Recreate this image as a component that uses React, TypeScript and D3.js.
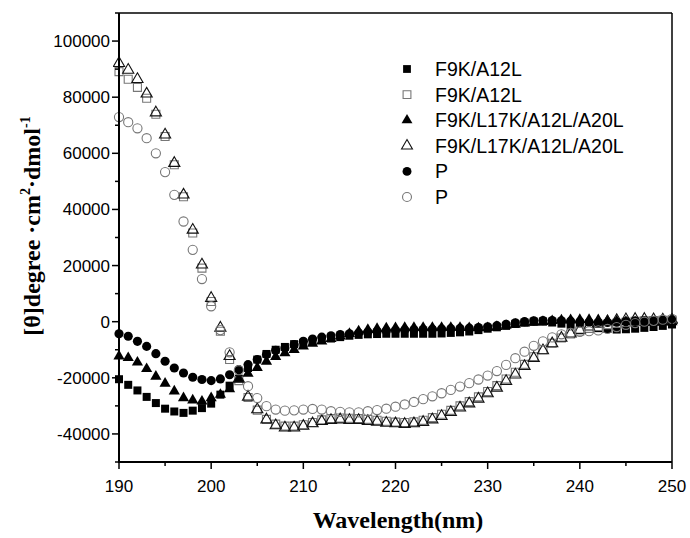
import React from "react";
import * as d3 from "d3";

// wavelength grid (nm), one reading per nm
const wavelengths = [
  190, 191, 192, 193, 194, 195, 196, 197, 198, 199, 200, 201, 202, 203, 204, 205, 206, 207, 208, 209,
  210, 211, 212, 213, 214, 215, 216, 217, 218, 219, 220, 221, 222, 223, 224, 225, 226, 227, 228, 229,
  230, 231, 232, 233, 234, 235, 236, 237, 238, 239, 240, 241, 242, 243, 244, 245, 246, 247, 248, 249, 250,
];

// F9K/A12L, filled squares
const f9kFilled = [
  -20500, -22500, -24500, -26800, -29000, -31000, -32000, -32500, -31700, -30800,
  -29200, -26000, -22800, -20300, -16500, -13500, -11500, -10000, -9000, -8000,
  -7500, -7000, -6500, -6000, -5500, -5000, -4700, -4500, -4400, -4300,
  -4300, -4300, -4300, -4300, -4300, -4200, -4000, -3800, -3500, -3000,
  -2500, -2000, -1500, -800, -300, 0, 0, -300, -700, -1100,
  -1500, -1900, -2300, -2600, -2800, -2700, -2500, -2200, -1900, -1500, -1000,
];

// F9K/A12L, open squares
const f9kOpen = [
  89100, 86400, 83500, 79600, 73900, 66000, 55900, 44500, 31600, 19100,
  7200, -3400, -13500, -21000, -27000, -31500, -34800, -36500, -37200, -37200,
  -36700, -35900, -35000, -34500, -34300, -34400, -34500, -34800, -35100, -35500,
  -35800, -35900, -35700, -35100, -34200, -33000, -31600, -30000, -28500, -26800,
  -24900, -22800, -20400, -18000, -15200, -12500, -10000, -7700, -5800, -4400,
  -3300, -2400, -1700, -1100, -600, -200, 100, 300, 400, 500, 600,
];

// F9K/L17K/A12L/A20L, filled triangles
const f9l17Filled = [
  -12300, -12900, -14500, -16800, -19500, -22000, -24800, -27200, -28000, -28400,
  -27200, -26000, -24000, -20400, -18500, -16400, -14200, -12500, -11200, -10000,
  -8800, -7800, -7000, -6100, -5200, -4300, -3400, -2850, -2500, -2300,
  -2200, -2100, -2100, -2100, -2100, -2100, -2100, -2100, -2200, -2300,
  -2200, -1800, -1400, -1000, -600, -300, 0, 300, 500, 600,
  700, 700, 600, 400, 200, 0, -200, -300, -300, -200, -100,
];

// F9K/L17K/A12L/A20L, open triangles
const f9l17Open = [
  92100, 89700, 86400, 81200, 74500, 66600, 56500, 45200, 32700, 20300,
  8400, -2200, -12300, -20400, -26800, -31300, -34900, -37000, -37800, -37800,
  -37200, -36300, -35500, -35100, -34900, -35100, -35100, -35500, -35700, -36100,
  -36300, -36500, -36300, -35800, -34900, -33700, -32300, -30700, -29200, -27500,
  -25600, -23600, -21200, -18900, -15900, -13000, -10300, -7800, -5800, -4300,
  -3000, -1800, -800, 0, 500, 800, 900, 900, 800, 700, 600,
];

// P, filled circles
const pFilled = [
  -4300, -5200, -7000, -8800, -11400, -14100, -16500, -18300, -19800, -20600,
  -21000, -20400, -18900, -17100, -15300, -13500, -11700, -10200, -9400, -8200,
  -7000, -6200, -5500, -5000, -4600, -4300, -4000, -3700, -3500, -3300,
  -3100, -3000, -2900, -2800, -2700, -2600, -2500, -2400, -2300, -2100,
  -1800, -1400, -900, -400, 0, 300, 400, 400, 300, 200,
  0, -200, -300, -300, -200, 0, 200, 300, 400, 500, 600,
];

// P, open circles
const pOpen = [
  72900, 71100, 68900, 65400, 60000, 53300, 45200, 35700, 25600, 15200,
  5500, -3000, -10900, -17300, -23000, -27200, -30100, -31300, -31700, -31600,
  -31300, -31100, -31300, -31900, -32100, -32300, -32300, -31900, -31500, -31000,
  -30300, -29500, -28600, -27600, -26600, -25500, -24300, -23100, -21900, -20600,
  -19200, -17600, -15400, -13000, -10700, -8600, -7000, -5600, -4500, -4000,
  -3600, -3400, -3100, -2600, -1900, -1100, -500, 0, 300, 700, 1000,
];

const xTicks = [190, 200, 210, 220, 230, 240, 250];
const yTicks = [-40000, -20000, 0, 20000, 40000, 60000, 80000, 100000];

const series = [
  { name: "F9K/A12L", values: f9kFilled, shape: d3.symbolSquare, size: 64, fill: "#000", stroke: "none" },
  { name: "F9K/A12L", values: f9kOpen, shape: d3.symbolSquare, size: 64, fill: "#fff", stroke: "#777" },
  { name: "F9K/L17K/A12L/A20L", values: f9l17Filled, shape: d3.symbolTriangle, size: 54, fill: "#000", stroke: "none" },
  { name: "F9K/L17K/A12L/A20L", values: f9l17Open, shape: d3.symbolTriangle, size: 54, fill: "none", stroke: "#111" },
  { name: "P", values: pFilled, shape: d3.symbolCircle, size: 66, fill: "#000", stroke: "none" },
  { name: "P", values: pOpen, shape: d3.symbolCircle, size: 66, fill: "none", stroke: "#777" },
];

const W = 690;
const H = 538;
const left = 119;
const right = 672;
const top = 13;
const bottom = 462;

export default function App() {
  const x = d3.scaleLinear().domain([190, 250]).range([left, right]);
  const y = d3.scaleLinear().domain([-50000, 110000]).range([bottom, top]);
  const minorX = d3.range(195, 250, 10);
  const minorY = d3.range(-50000, 110001, 10000).filter((v) => !yTicks.includes(v));

  return (
    <svg width={W} height={H} style={{ position: "absolute", left: 0, top: 0, background: "#fff" }}>
      <defs>
        <clipPath id="plot">
          <rect x={left - 6} y={top} width={right - left + 12} height={bottom - top} />
        </clipPath>
      </defs>

      {/* markers */}
      <g clipPath="url(#plot)">
        {series.map((s, si) => {
          const path = d3.symbol().type(s.shape).size(s.size)() as string;
          return (
            <g key={si}>
              {s.values.map((v, i) => (
                <path
                  key={i}
                  d={path}
                  transform={`translate(${x(wavelengths[i])},${y(v)})`}
                  fill={s.fill}
                  stroke={s.stroke}
                  strokeWidth={1.1}
                />
              ))}
            </g>
          );
        })}
      </g>

      {/* frame */}
      <line x1={left} x2={right} y1={top} y2={top} stroke="#000" strokeWidth={1.5} />
      <line x1={right} x2={right} y1={top} y2={bottom} stroke="#000" strokeWidth={1.5} />
      <line x1={left} x2={left} y1={top} y2={bottom + 1} stroke="#000" strokeWidth={2} />
      <line x1={left - 1} x2={right} y1={bottom} y2={bottom} stroke="#000" strokeWidth={2} />

      {/* x axis ticks */}
      {xTicks.map((t) => (
        <g key={t}>
          <line x1={x(t)} x2={x(t)} y1={bottom} y2={bottom + 7} stroke="#000" strokeWidth={1.5} />
          <text x={x(t)} y={bottom + 30} textAnchor="middle" fontFamily="Liberation Sans, Arial" fontSize={17}>
            {t}
          </text>
        </g>
      ))}
      {minorX.map((t) => (
        <line key={t} x1={x(t)} x2={x(t)} y1={bottom} y2={bottom + 4} stroke="#000" strokeWidth={1.5} />
      ))}

      {/* y axis ticks */}
      {yTicks.map((t) => (
        <g key={t}>
          <line x1={left - 7} x2={left} y1={y(t)} y2={y(t)} stroke="#000" strokeWidth={1.5} />
          <text x={left - 9} y={y(t) + 6} textAnchor="end" fontFamily="Liberation Sans, Arial" fontSize={17}>
            {t}
          </text>
        </g>
      ))}
      {minorY.map((t) => (
        <line key={t} x1={left - 4} x2={left} y1={y(t)} y2={y(t)} stroke="#000" strokeWidth={1.5} />
      ))}

      {/* axis titles */}
      <text
        x={398}
        y={528}
        textAnchor="middle"
        fontFamily="Liberation Serif, Times New Roman, serif"
        fontWeight="bold"
        fontSize={24}
      >
        Wavelength(nm)
      </text>
      <text
        transform="translate(40,226) rotate(-90)"
        textAnchor="middle"
        fontFamily="Liberation Serif, Times New Roman, serif"
        fontWeight="bold"
        fontSize={24}
      >
        [θ]degree ·cm
        <tspan dy={-10} fontSize={14}>2</tspan>
        <tspan dy={10}>·dmol</tspan>
        <tspan dy={-10} fontSize={14}>-1</tspan>
      </text>

      {/* legend */}
      {series.map((s, i) => {
        const path = d3.symbol().type(s.shape).size(s.size * 0.95)() as string;
        const ly = 69 + i * 25.6;
        return (
          <g key={i}>
            <path d={path} transform={`translate(407,${ly})`} fill={s.fill} stroke={s.stroke} strokeWidth={1.1} />
            <text x={435} y={ly + 7} fontFamily="Liberation Sans, Arial" fontSize={19.5}>
              {s.name}
            </text>
          </g>
        );
      })}
    </svg>
  );
}
